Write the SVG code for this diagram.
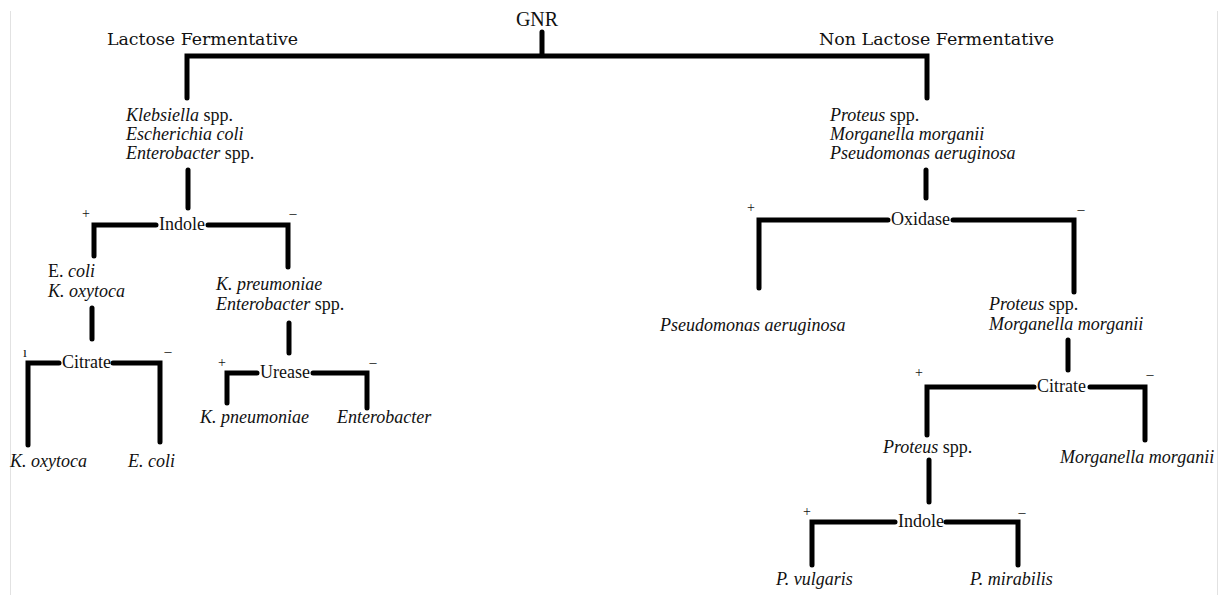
<svg xmlns="http://www.w3.org/2000/svg" width="1228" height="595" viewBox="0 0 1228 595">
<style>
text{font-family:"Liberation Serif","Times New Roman",serif;font-size:18px;fill:#111}
.it{font-style:italic}
.hd{font-family:"DejaVu Serif","Liberation Serif",serif;font-size:16px}
.root{font-size:20px}
.sg{font-size:14px;text-anchor:middle}
#connectors path{fill:none;stroke:#000;stroke-width:5;stroke-linecap:round;stroke-linejoin:miter}
.frame{fill:none;stroke:#e2e2e2;stroke-width:1}
</style>
<rect width="1228" height="595" fill="#fff"/>
<path class="frame" d="M10.5,11 V595 M1217.5,11 V595"/>
<g id="connectors">
<path d="M542,32 V55"/>
<path d="M187,98 V56 H927 V98"/>
<path d="M188,170 V208"/>
<path d="M94,256 V225 H156"/>
<path d="M208,225 H288 V267"/>
<path d="M92,308 V339"/>
<path d="M28,445 V363 H59"/>
<path d="M113,363 H160 V442"/>
<path d="M289,323 V353"/>
<path d="M227,403 V373 H257"/>
<path d="M313,373 H367 V408"/>
<path d="M926,170 V198"/>
<path d="M759,288 V220 H888"/>
<path d="M953,220 H1074 V292"/>
<path d="M1068,340 V370"/>
<path d="M927,435 V387 H1034"/>
<path d="M1090,387 H1145 V440"/>
<path d="M929,460 V502"/>
<path d="M812,565 V522 H895"/>
<path d="M946,522 H1018 V565"/>
</g>
<g id="gnr"><text class="root" x="537" y="26" text-anchor="middle">GNR</text></g>
<g id="lactose"><text class="hd" x="107" y="45" textLength="191" lengthAdjust="spacingAndGlyphs">Lactose Fermentative</text></g>
<g id="nonlactose"><text class="hd" x="819" y="45" textLength="235" lengthAdjust="spacingAndGlyphs">Non Lactose Fermentative</text></g>
<g id="lf-species">
<text x="126" y="121"><tspan class="it">Klebsiella</tspan> spp.</text>
<text x="126" y="140" class="it">Escherichia coli</text>
<text x="126" y="159"><tspan class="it">Enterobacter</tspan> spp.</text>
</g>
<g id="indole1">
<text x="159" y="230">Indole</text>
<text class="sg" x="86" y="218">+</text>
<text class="sg" x="293" y="218">–</text>
</g>
<g id="ecoli-koxy">
<text x="48" y="277">E. <tspan class="it">coli</tspan></text>
<text x="48" y="297" class="it">K. oxytoca</text>
</g>
<g id="citrate1">
<text x="62" y="368">Citrate</text>
<text class="sg" x="25" y="357">ı</text>
<text class="sg" x="168" y="356">–</text>
</g>
<g id="koxytoca"><text x="10" y="467" class="it">K. oxytoca</text></g>
<g id="ecoli"><text x="128" y="467" class="it">E. coli</text></g>
<g id="kpre-ent">
<text x="216" y="290" class="it">K. preumoniae</text>
<text x="216" y="310"><tspan class="it">Enterobacter</tspan> spp.</text>
</g>
<g id="urease">
<text x="260" y="378">Urease</text>
<text class="sg" x="222" y="367">+</text>
<text class="sg" x="373" y="367">–</text>
</g>
<g id="kpneumoniae"><text x="200" y="423" class="it">K. pneumoniae</text></g>
<g id="enterobacter"><text x="337" y="423" class="it">Enterobacter</text></g>
<g id="nlf-species">
<text x="830" y="121"><tspan class="it">Proteus</tspan> spp.</text>
<text x="830" y="140" class="it">Morganella morganii</text>
<text x="830" y="159" class="it">Pseudomonas aeruginosa</text>
</g>
<g id="oxidase">
<text x="891" y="225">Oxidase</text>
<text class="sg" x="751" y="212">+</text>
<text class="sg" x="1081" y="214">–</text>
</g>
<g id="pseudomonas"><text x="660" y="331" class="it">Pseudomonas aeruginosa</text></g>
<g id="proteus-morg">
<text x="989" y="310"><tspan class="it">Proteus</tspan> spp.</text>
<text x="989" y="330" class="it">Morganella morganii</text>
</g>
<g id="citrate2">
<text x="1037" y="392">Citrate</text>
<text class="sg" x="919" y="377">+</text>
<text class="sg" x="1150" y="379">–</text>
</g>
<g id="proteus"><text x="883" y="453"><tspan class="it">Proteus</tspan> spp.</text></g>
<g id="morganella"><text x="1060" y="463" class="it">Morganella morganii</text></g>
<g id="indole2">
<text x="898" y="527">Indole</text>
<text class="sg" x="807" y="516">+</text>
<text class="sg" x="1022" y="517">–</text>
</g>
<g id="pvulgaris"><text x="776" y="585" class="it">P. vulgaris</text></g>
<g id="pmirabilis"><text x="970" y="585" class="it">P. mirabilis</text></g>
</svg>
